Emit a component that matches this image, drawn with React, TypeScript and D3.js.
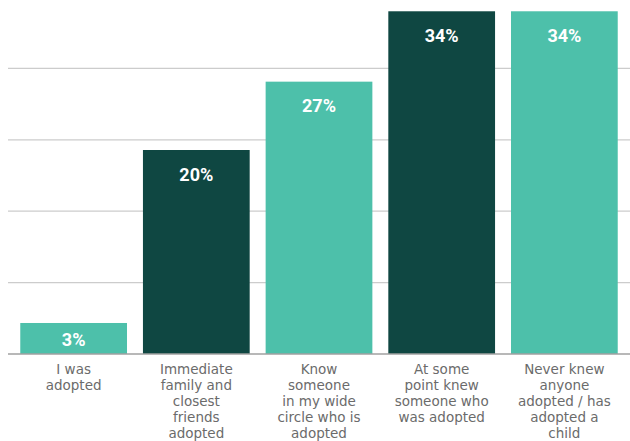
import React from "react";
import * as d3 from "d3";

const categories: string[][] = [
  ["I was", "adopted"],
  ["Immediate", "family and", "closest", "friends", "adopted"],
  ["Know", "someone", "in my wide", "circle who is", "adopted"],
  ["At some", "point knew", "someone who", "was adopted"],
  ["Never knew", "anyone", "adopted / has", "adopted a", "child"],
];
const values: number[] = [3.04, 20.0, 26.7, 33.6, 33.6];
const valueLabels: string[] = ["3%", "20%", "27%", "34%", "34%"];
const barColors: string[] = ["#4dc0aa", "#0f4742", "#4dc0aa", "#0f4742", "#4dc0aa"];
const gridTicks: number[] = [7, 14, 21, 28];

const W = 630;
const H = 441;

export default function App() {
  const x = d3
    .scaleBand<number>()
    .domain(values.map((_, i) => i))
    .range([8, 630])
    .paddingInner(0.13)
    .paddingOuter(0.1);
  const y = d3.scaleLinear().domain([0, 35]).range([354, -3]);

  return (
    <svg
      width={W}
      height={H}
      style={{ position: "absolute", left: 0, top: 0 }}
      fontFamily="Roboto, 'Open Sans', sans-serif"
    >
      {gridTicks.map((t) => (
        <line
          key={t}
          x1={8}
          x2={630}
          y1={y(t)}
          y2={y(t)}
          stroke="#cccccc"
          strokeWidth={1.3}
        />
      ))}
      {values.map((v, i) => {
        const bx = x(i)!;
        const cx = bx + x.bandwidth() / 2;
        const top = y(v);
        const h = y(0) - top;
        const ly = h < 50 ? top + h / 2 + 1 : top + 24;
        return (
          <g key={i}>
            <rect x={bx} y={top} width={x.bandwidth()} height={h} fill={barColors[i]} />
            <text
              x={cx}
              y={ly}
              textAnchor="middle"
              dominantBaseline="central"
              fill="#ffffff"
              fontWeight={700}
              fontSize={18}
            >
              {valueLabels[i]}
            </text>
            {categories[i].map((line, j) => (
              <text
                key={j}
                x={cx}
                y={369 + j * 16}
                textAnchor="middle"
                dominantBaseline="central"
                fill="#6b6b6b"
                fontSize={13.5}
                fontFamily="'DejaVu Sans', sans-serif"
              >
                {line}
              </text>
            ))}
          </g>
        );
      })}
      <line x1={8} x2={630} y1={y(0)} y2={y(0)} stroke="#a0a0a0" strokeWidth={1.3} />
    </svg>
  );
}
